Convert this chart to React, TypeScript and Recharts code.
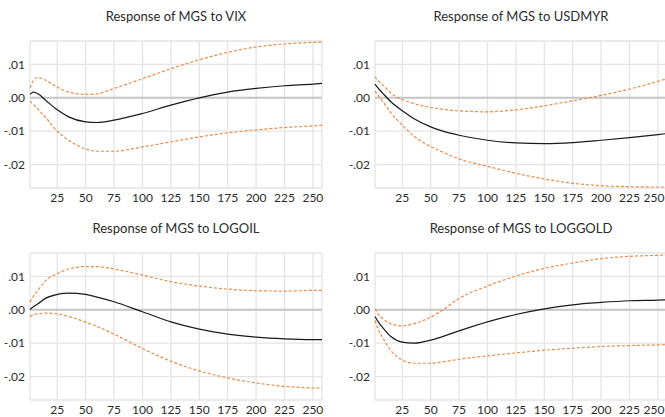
import { LineChart, Line, XAxis, YAxis, CartesianGrid, ReferenceLine } from "recharts";

const HORIZON = [1, 4, 8, 15, 25, 35, 50, 60, 75, 100, 125, 150, 175, 200, 225, 250, 258];
const X_TICKS = [25, 50, 75, 100, 125, 150, 175, 200, 225, 250];
const Y_TICKS = [-0.02, -0.01, 0, 0.01];

const VIX_RESP = [0.001, 0.0017, 0.0012, -0.0008, -0.0036, -0.0057, -0.0072, -0.0074, -0.0067, -0.0047, -0.0022, 0.0, 0.0017, 0.0028, 0.0036, 0.0041, 0.0043];
const VIX_UPPER = [0.003, 0.0052, 0.0061, 0.0052, 0.0032, 0.0017, 0.001, 0.0012, 0.0028, 0.0057, 0.0087, 0.0114, 0.0136, 0.0152, 0.0161, 0.0166, 0.0167];
const VIX_LOWER = [-0.001, -0.002, -0.0034, -0.006, -0.01, -0.0127, -0.0153, -0.016, -0.016, -0.0147, -0.0132, -0.0117, -0.0105, -0.0096, -0.0089, -0.0084, -0.0082];

const USDMYR_RESP = [0.0041, 0.0028, 0.0013, -0.0012, -0.0039, -0.0062, -0.0087, -0.0099, -0.0112, -0.0127, -0.0135, -0.0137, -0.0134, -0.0127, -0.0119, -0.011, -0.0107];
const USDMYR_UPPER = [0.0063, 0.005, 0.0038, 0.0014, -0.0005, -0.0017, -0.0029, -0.0034, -0.0039, -0.0042, -0.0036, -0.0024, -0.0009, 0.0007, 0.0026, 0.0049, 0.0057];
const USDMYR_LOWER = [0.002, 0.0006, -0.0012, -0.0045, -0.0082, -0.0114, -0.0146, -0.0162, -0.0183, -0.0205, -0.0226, -0.0243, -0.0256, -0.0263, -0.0266, -0.0267, -0.0267];

const LOGOIL_RESP = [0.0001, 0.0009, 0.0018, 0.0035, 0.0046, 0.005, 0.0046, 0.0038, 0.0024, -0.0006, -0.0036, -0.0058, -0.0073, -0.0082, -0.0087, -0.0089, -0.0089];
const LOGOIL_UPPER = [0.0023, 0.004, 0.0058, 0.0088, 0.0108, 0.0122, 0.0129, 0.0129, 0.0122, 0.0104, 0.0084, 0.0071, 0.0062, 0.0057, 0.0056, 0.0058, 0.0058];
const LOGOIL_LOWER = [-0.002, -0.0015, -0.0012, -0.001, -0.0012, -0.002, -0.0037, -0.005, -0.0073, -0.0116, -0.0154, -0.0183, -0.0204, -0.0219, -0.0229, -0.0234, -0.0235];

const LOGGOLD_RESP = [-0.002, -0.0037, -0.0054, -0.008, -0.0097, -0.01, -0.0091, -0.0081, -0.0063, -0.0036, -0.0014, 0.0003, 0.0015, 0.0022, 0.0027, 0.0029, 0.003];
const LOGGOLD_UPPER = [0.0003, -0.0014, -0.0027, -0.0042, -0.0048, -0.0042, -0.0022, -0.0002, 0.0034, 0.0071, 0.0101, 0.0124, 0.014, 0.0153, 0.016, 0.0163, 0.0164];
const LOGGOLD_LOWER = [-0.0032, -0.006, -0.0085, -0.0122, -0.015, -0.016, -0.016, -0.0156, -0.0148, -0.0138, -0.0129, -0.0121, -0.0115, -0.011, -0.0107, -0.0105, -0.0104];

const FONT = "Lato, 'Open Sans', sans-serif";
const TEXT = "#2b2b2b";
const ORANGE = "#ec8a45";

const fmtY = (v: number) => (v < 0 ? "-" : "") + Math.abs(v).toFixed(2).replace(/^0/, "");

interface PanelProps {
  title: string;
  resp: number[];
  upper: number[];
  lower: number[];
  left: number;
  top: number;
  width: number;
  marginRight: number;
}

const Panel = ({ title, resp, upper, lower, left, top, width, marginRight }: PanelProps) => {
  const data = HORIZON.map((h, i) => ({ h, resp: resp[i], upper: upper[i], lower: lower[i] }));
  const plotLeft = 30;
  const plotRight = width - marginRight;

  // keep the last label inside the window when the plot runs to the edge
  const renderXTick = (props: any) => {
    const { x, y, payload } = props;
    const shift = x + 11 > width ? width - 11 - x : 0;
    return (
      <text x={x + shift} y={y} dy="0.71em" textAnchor="middle" fill={TEXT} fontSize={12} fontFamily={FONT}>
        {payload.value}
      </text>
    );
  };

  return (
    <div style={{ position: "absolute", left, top, width, height: 210 }}>
      <div
        style={{
          position: "absolute",
          left: plotLeft,
          width: plotRight - plotLeft,
          top: 8,
          textAlign: "center",
          fontFamily: FONT,
          fontSize: 13,
          color: TEXT,
        }}
      >
        {title}
      </div>
      <LineChart width={width} height={210} data={data} margin={{ top: 41, right: marginRight, bottom: 0, left: 0 }}>
        <CartesianGrid stroke="#e4e4e4" strokeWidth={1.3} />
        <XAxis
          dataKey="h"
          type="number"
          domain={[1, 258]}
          ticks={X_TICKS}
          height={22}
          axisLine={false}
          tickLine={false}
          tickSize={0}
          tickMargin={5}
          tick={renderXTick}
          interval={0}
        />
        <YAxis
          type="number"
          domain={[-0.027, 0.017]}
          ticks={Y_TICKS}
          allowDataOverflow
          width={30}
          axisLine={false}
          tickLine={false}
          tickSize={0}
          tickMargin={5}
          tickFormatter={fmtY}
          tick={{ fill: TEXT, fontSize: 12, fontFamily: FONT }}
          interval={0}
        />
        <ReferenceLine y={0} stroke="#c6c6c6" strokeWidth={2} />
        <Line type="monotone" dataKey="upper" stroke={ORANGE} strokeWidth={1.2} strokeDasharray="3 2" dot={false} isAnimationActive={false} />
        <Line type="monotone" dataKey="lower" stroke={ORANGE} strokeWidth={1.2} strokeDasharray="3 2" dot={false} isAnimationActive={false} />
        <Line type="monotone" dataKey="resp" stroke="#1a1a1a" strokeWidth={1.2} dot={false} isAnimationActive={false} />
      </LineChart>
    </div>
  );
};

export default function App() {
  return (
    <div style={{ position: "fixed", left: 0, top: 0, width: 665, height: 417, overflow: "hidden", background: "#fff" }}>
      <Panel title="Response of MGS to VIX" resp={VIX_RESP} upper={VIX_UPPER} lower={VIX_LOWER} left={0} top={0} width={335} marginRight={13} />
      <Panel title="Response of MGS to USDMYR" resp={USDMYR_RESP} upper={USDMYR_UPPER} lower={USDMYR_LOWER} left={345} top={0} width={320} marginRight={-2} />
      <Panel title="Response of MGS to LOGOIL" resp={LOGOIL_RESP} upper={LOGOIL_UPPER} lower={LOGOIL_LOWER} left={0} top={212} width={335} marginRight={13} />
      <Panel title="Response of MGS to LOGGOLD" resp={LOGGOLD_RESP} upper={LOGGOLD_UPPER} lower={LOGGOLD_LOWER} left={345} top={212} width={320} marginRight={-2} />
    </div>
  );
}
